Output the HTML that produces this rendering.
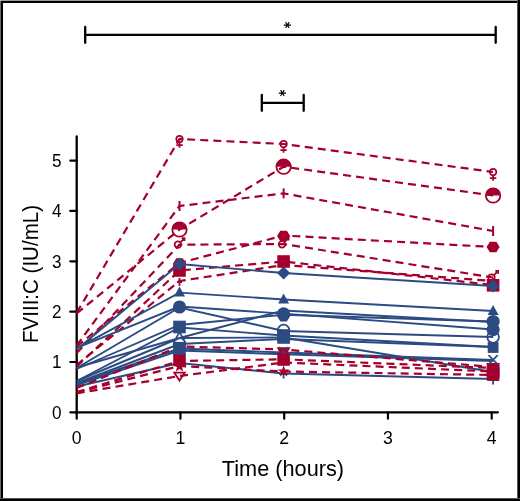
<!DOCTYPE html>
<html><head><meta charset="utf-8"><style>
html,body{margin:0;padding:0;background:#fff;}
body{width:520px;height:501px;overflow:hidden;position:relative;}
svg{position:absolute;left:0;top:0;}
svg{will-change:transform;}
.b{position:absolute;background:#000;}
</style></head><body>
<svg width="520" height="501" viewBox="0 0 520 501">
<g font-family="Liberation Sans, sans-serif" font-size="18.4" fill="#000"><text transform="translate(61.4 418.75) scale(0.93 1)" text-anchor="end">0</text><text transform="translate(61.4 368.40) scale(0.93 1)" text-anchor="end">1</text><text transform="translate(61.4 318.05) scale(0.93 1)" text-anchor="end">2</text><text transform="translate(61.4 267.70) scale(0.93 1)" text-anchor="end">3</text><text transform="translate(61.4 217.35) scale(0.93 1)" text-anchor="end">4</text><text transform="translate(61.4 167.00) scale(0.93 1)" text-anchor="end">5</text><text transform="translate(76.70 443.9) scale(0.96 1)" text-anchor="middle">0</text><text transform="translate(180.45 443.9) scale(0.96 1)" text-anchor="middle">1</text><text transform="translate(284.20 443.9) scale(0.96 1)" text-anchor="middle">2</text><text transform="translate(387.95 443.9) scale(0.96 1)" text-anchor="middle">3</text><text transform="translate(491.70 443.9) scale(0.96 1)" text-anchor="middle">4</text></g>
<text transform="translate(282.9 476) scale(0.988 1)" font-family="Liberation Sans, sans-serif" font-size="22" text-anchor="middle">Time (hours)</text>
<text transform="translate(37.5 274) rotate(-90) scale(0.934 1)" x="0" y="0" font-family="Liberation Sans, sans-serif" font-size="22" text-anchor="middle">FVIII:C (IU/mL)</text>
<path d="M283.80 25.10L291.00 25.10M285.60 22.16L289.20 28.04M289.20 22.16L285.60 28.04" stroke="#000" stroke-width="1.1" fill="none"/><path d="M278.80 93.10L286.00 93.10M280.60 90.16L284.20 96.04M284.20 90.16L280.60 96.04" stroke="#000" stroke-width="1.1" fill="none"/>
<path d="M85.2 34.9H495.7M85.2 26.9V42.8M495.7 26.9V42.8" fill="none" stroke="#000" stroke-width="2.3" stroke-linecap="round"/><path d="M261.8 102.8H303.7M261.8 95V110.8M303.7 95V110.8" fill="none" stroke="#000" stroke-width="2.3" stroke-linecap="round"/>
<path d="M76.7 136.5V412.35H497.9" fill="none" stroke="#000" stroke-width="2.3" stroke-linecap="round"/><path d="M70.3 412.35H77" stroke="#000" stroke-width="2.2" stroke-linecap="round"/><path d="M70.3 362.00H77" stroke="#000" stroke-width="2.2" stroke-linecap="round"/><path d="M70.3 311.65H77" stroke="#000" stroke-width="2.2" stroke-linecap="round"/><path d="M70.3 261.30H77" stroke="#000" stroke-width="2.2" stroke-linecap="round"/><path d="M70.3 210.95H77" stroke="#000" stroke-width="2.2" stroke-linecap="round"/><path d="M70.3 160.60H77" stroke="#000" stroke-width="2.2" stroke-linecap="round"/><path d="M76.70 412.35V418.7" stroke="#000" stroke-width="2.2" stroke-linecap="round"/><path d="M180.45 412.35V418.7" stroke="#000" stroke-width="2.2" stroke-linecap="round"/><path d="M284.20 412.35V418.7" stroke="#000" stroke-width="2.2" stroke-linecap="round"/><path d="M387.95 412.35V418.7" stroke="#000" stroke-width="2.2" stroke-linecap="round"/><path d="M491.70 412.35V418.7" stroke="#000" stroke-width="2.2" stroke-linecap="round"/>
<polyline points="76.7,386.5 179.5,363.0 283.6,373.5 493.1,379.0" fill="none" stroke="#2c4b83" stroke-width="1.9"/><polyline points="76.7,367.5 179.5,338.0 283.6,337.5 493.1,372.0" fill="none" stroke="#2c4b83" stroke-width="1.9"/><polyline points="76.7,383.5 179.5,348.5 283.6,352.5 493.1,360.0" fill="none" stroke="#2c4b83" stroke-width="1.9"/><polyline points="76.7,385.0 179.5,350.5 283.6,354.3 493.1,361.0" fill="none" stroke="#2c4b83" stroke-width="1.9"/><path d="M179.5 358.5V367.5M175.0 363H184.0" stroke="#2c4b83" stroke-width="1.8"/><path d="M283.6 369.5V378.5M279.1 374H288.1" stroke="#2c4b83" stroke-width="1.8"/><path d="M493.1 375.5V384.5M488.6 380H497.6" stroke="#2c4b83" stroke-width="1.8"/><rect x="486.8" y="365.2" width="12.6" height="12.6" fill="#2c4b83"/><path d="M276.6 347.2H290.6L283.6 359.2Z" fill="#a5002d"/><path d="M486.1 363H500.1L493.1 375Z" fill="#a5002d"/><path d="M279.0 347.2L288.20000000000005 356.40000000000003M288.20000000000005 347.2L279.0 356.40000000000003" stroke="#2c4b83" stroke-width="1.8"/><path d="M488.5 355.2L497.70000000000005 364.40000000000003M497.70000000000005 355.2L488.5 364.40000000000003" stroke="#2c4b83" stroke-width="1.8"/><path d="M277.1 316.2L280.35 311.0H286.85L290.1 316.2L286.85 321.4H280.35Z" fill="#2c4b83"/><circle cx="179.5" cy="139" r="3.25" fill="none" stroke="#a5002d" stroke-width="1.75"/><path d="M179.5 143V147.8M176.3 145.1H182.7" stroke="#a5002d" stroke-width="1.75"/><circle cx="283.6" cy="144" r="3.25" fill="none" stroke="#a5002d" stroke-width="1.75"/><path d="M283.6 148V152.8M280.40000000000003 150.1H286.8" stroke="#a5002d" stroke-width="1.75"/><circle cx="493.1" cy="172" r="3.25" fill="none" stroke="#a5002d" stroke-width="1.75"/><path d="M493.1 176V180.8M489.90000000000003 178.1H496.3" stroke="#a5002d" stroke-width="1.75"/><circle cx="179.5" cy="229.5" r="7.2" fill="#fff" stroke="#a5002d" stroke-width="1.8"/><path d="M172.3 229.5A7.2 7.2 0 0 1 186.7 229.5Z" fill="#a5002d"/><circle cx="283.6" cy="166.7" r="7.2" fill="#fff" stroke="#a5002d" stroke-width="1.8"/><path d="M276.40000000000003 166.7A7.2 7.2 0 0 1 290.8 166.7Z" fill="#a5002d"/><circle cx="493.1" cy="195.5" r="7.2" fill="#fff" stroke="#a5002d" stroke-width="1.8"/><path d="M485.90000000000003 195.5A7.2 7.2 0 0 1 500.3 195.5Z" fill="#a5002d"/><path d="M179.5 201V211" stroke="#a5002d" stroke-width="2"/><path d="M283.6 188.4V198.4" stroke="#a5002d" stroke-width="2"/><path d="M493.1 226V236" stroke="#a5002d" stroke-width="2"/><circle cx="177.9" cy="244.7" r="3.25" fill="none" stroke="#a5002d" stroke-width="1.75"/><path d="M180.3 242.29999999999998L184.3 238.29999999999998M181.7 238.1H184.5V240.89999999999998" fill="none" stroke="#a5002d" stroke-width="1.75"/><circle cx="282.0" cy="244.3" r="3.25" fill="none" stroke="#a5002d" stroke-width="1.75"/><path d="M284.40000000000003 241.9L288.40000000000003 237.9M285.8 237.70000000000002H288.6V240.5" fill="none" stroke="#a5002d" stroke-width="1.75"/><circle cx="491.5" cy="277.5" r="3.25" fill="none" stroke="#a5002d" stroke-width="1.75"/><path d="M493.90000000000003 275.1L497.90000000000003 271.1M495.3 270.9H498.1V273.7" fill="none" stroke="#a5002d" stroke-width="1.75"/><path d="M173.0 263.5L176.25 258.3H182.75L186.0 263.5L182.75 268.7H176.25Z" fill="#a5002d"/><path d="M277.1 236L280.35 230.8H286.85L290.1 236L286.85 241.2H280.35Z" fill="#a5002d"/><path d="M486.6 247L489.85 241.8H496.35L499.6 247L496.35 252.2H489.85Z" fill="#a5002d"/><path d="M179.5 278V286M177.0 282H182.0" stroke="#a5002d" stroke-width="1.8"/><path d="M283.6 262V270M281.1 266H286.1" stroke="#a5002d" stroke-width="1.8"/><path d="M493.1 278V286M490.6 282H495.6" stroke="#a5002d" stroke-width="1.8"/><rect x="173.2" y="264.2" width="12.6" height="12.6" fill="#a5002d"/><rect x="277.3" y="255.2" width="12.6" height="12.6" fill="#a5002d"/><rect x="486.8" y="279.0" width="12.6" height="12.6" fill="#a5002d"/><polygon points="179.50,360.20 181.03,364.40 185.49,364.55 181.97,367.30 183.20,371.60 179.50,369.10 175.80,371.60 177.03,367.30 173.51,364.55 177.97,364.40" fill="#a5002d"/><polygon points="283.60,365.20 285.13,369.40 289.59,369.55 286.07,372.30 287.30,376.60 283.60,374.10 279.90,376.60 281.13,372.30 277.61,369.55 282.07,369.40" fill="#a5002d"/><polygon points="493.10,368.70 494.63,372.90 499.09,373.05 495.57,375.80 496.80,380.10 493.10,377.60 489.40,380.10 490.63,375.80 487.11,373.05 491.57,372.90" fill="#a5002d"/><path d="M174.2 372.6H184.8L179.5 380.6Z" fill="#fff" stroke="#a5002d" stroke-width="1.8" stroke-linejoin="miter"/><rect x="173.2" y="353.7" width="12.6" height="12.6" fill="#a5002d"/><rect x="277.3" y="353.2" width="12.6" height="12.6" fill="#a5002d"/><rect x="486.8" y="364.2" width="12.6" height="12.6" fill="#a5002d"/><rect x="486.8" y="368.2" width="12.6" height="12.6" fill="#a5002d"/><polyline points="76.7,312.8 179.5,139.0 283.6,144.0 493.1,172.0" fill="none" stroke="#a5002d" stroke-width="2.2" stroke-dasharray="8 5.1"/><polyline points="76.7,313.5 179.5,229.5 283.6,166.7 493.1,195.5" fill="none" stroke="#a5002d" stroke-width="2.2" stroke-dasharray="8 5.1"/><polyline points="76.7,345.5 179.5,206.0 283.6,193.4 493.1,231.0" fill="none" stroke="#a5002d" stroke-width="2.2" stroke-dasharray="8 5.1"/><polyline points="76.7,346.5 179.5,263.0 283.6,235.5 493.1,247.0" fill="none" stroke="#a5002d" stroke-width="2.2" stroke-dasharray="8 5.1"/><polyline points="76.7,353.0 179.5,244.7 283.6,244.0 493.1,277.5" fill="none" stroke="#a5002d" stroke-width="2.2" stroke-dasharray="8 5.1"/><polyline points="76.7,366.5 179.5,270.5 283.6,261.5 493.1,285.0" fill="none" stroke="#a5002d" stroke-width="2.2" stroke-dasharray="8 5.1"/><polyline points="76.7,365.0 179.5,281.0 283.6,265.0 493.1,281.0" fill="none" stroke="#a5002d" stroke-width="2.2" stroke-dasharray="8 5.1"/><polyline points="76.7,392.0 179.5,361.0 283.6,359.3 493.1,368.0" fill="none" stroke="#a5002d" stroke-width="2.2" stroke-dasharray="8 5.1"/><polyline points="76.7,392.5 179.5,366.0 283.6,371.5 493.1,375.0" fill="none" stroke="#a5002d" stroke-width="2.2" stroke-dasharray="8 5.1"/><polyline points="76.7,393.3 179.5,376.0 283.6,362.5 493.1,371.5" fill="none" stroke="#a5002d" stroke-width="2.2" stroke-dasharray="8 5.1"/><polyline points="76.7,388.0 179.5,346.5 283.6,349.5 493.1,367.0" fill="none" stroke="#a5002d" stroke-width="2.2" stroke-dasharray="8 5.1"/><path d="M179.5 332.0L185.0 342.0H174.0Z" fill="#fff" stroke="#2c4b83" stroke-width="1.6"/><circle cx="179.5" cy="344" r="5.8" fill="#fff" stroke="#2c4b83" stroke-width="1.8"/><circle cx="283.6" cy="330.5" r="5.8" fill="#fff" stroke="#2c4b83" stroke-width="1.8"/><circle cx="493.1" cy="337" r="5.8" fill="#fff" stroke="#2c4b83" stroke-width="1.8"/><polyline points="76.7,349.4 179.5,264.0 283.6,273.0 493.1,286.0" fill="none" stroke="#2c4b83" stroke-width="1.9"/><polyline points="76.7,348.4 179.5,292.6 283.6,299.5 493.1,311.0" fill="none" stroke="#2c4b83" stroke-width="1.9"/><polyline points="76.7,347.8 179.5,306.5 283.6,313.6 493.1,329.5" fill="none" stroke="#2c4b83" stroke-width="1.9"/><polyline points="76.7,369.0 179.5,325.0 283.6,314.7 493.1,321.5" fill="none" stroke="#2c4b83" stroke-width="1.9"/><polyline points="76.7,368.0 179.5,307.5 283.6,331.0 493.1,337.0" fill="none" stroke="#2c4b83" stroke-width="1.9"/><polyline points="76.7,381.0 179.5,327.5 283.6,335.5 493.1,347.0" fill="none" stroke="#2c4b83" stroke-width="1.9"/><polyline points="76.7,381.0 179.5,338.0 283.6,310.5 493.1,322.0" fill="none" stroke="#2c4b83" stroke-width="1.9"/><polyline points="76.7,383.0 179.5,344.0 283.6,339.0 493.1,347.0" fill="none" stroke="#2c4b83" stroke-width="1.9"/><circle cx="179.5" cy="307" r="6.6" fill="#2c4b83"/><circle cx="283.6" cy="313.8" r="6.6" fill="#2c4b83"/><circle cx="493.1" cy="321.5" r="6.6" fill="#2c4b83"/><circle cx="493.1" cy="329.6" r="6.6" fill="#2c4b83"/><rect x="173.2" y="320.7" width="12.6" height="12.6" fill="#2c4b83"/><rect x="173.2" y="341.9" width="12.6" height="12.6" fill="#2c4b83"/><rect x="277.3" y="329.2" width="12.6" height="12.6" fill="#2c4b83"/><rect x="277.3" y="331.2" width="12.6" height="12.6" fill="#2c4b83"/><rect x="487.70000000000005" y="342.1" width="10.8" height="10.8" fill="#2c4b83"/><path d="M179.5 286.6L185.0 296.6H174.0Z" fill="#2c4b83"/><path d="M283.6 293.5L289.1 303.5H278.1Z" fill="#2c4b83"/><path d="M493.1 305.0L498.6 315.0H487.6Z" fill="#2c4b83"/><path d="M179.5 257.4L186.1 264L179.5 270.6L172.9 264Z" fill="#2c4b83"/><path d="M283.6 266.4L290.20000000000005 273L283.6 279.6L277.0 273Z" fill="#2c4b83"/><path d="M493.1 279.4L499.70000000000005 286L493.1 292.6L486.5 286Z" fill="#2c4b83"/>
</svg>
<div class="b" style="left:0;top:0;width:520px;height:1px;background:#999"></div>
<div class="b" style="left:0;top:0;width:1px;height:501px;background:#6a6a6a"></div>
<div class="b" style="left:0;top:0;width:1px;height:1px;background:#c0c0c0"></div>
<div class="b" style="left:1px;top:1px;width:519px;height:2px"></div>
<div class="b" style="left:1px;top:1px;width:2px;height:500px"></div>
<div class="b" style="left:518px;top:0;width:2px;height:501px"></div>
<div class="b" style="left:517px;top:0;width:1px;height:501px;background:#555"></div>
<div class="b" style="left:0;top:499px;width:520px;height:2px"></div>
<div class="b" style="left:0;top:498px;width:520px;height:1px;background:#555"></div>
</body></html>
